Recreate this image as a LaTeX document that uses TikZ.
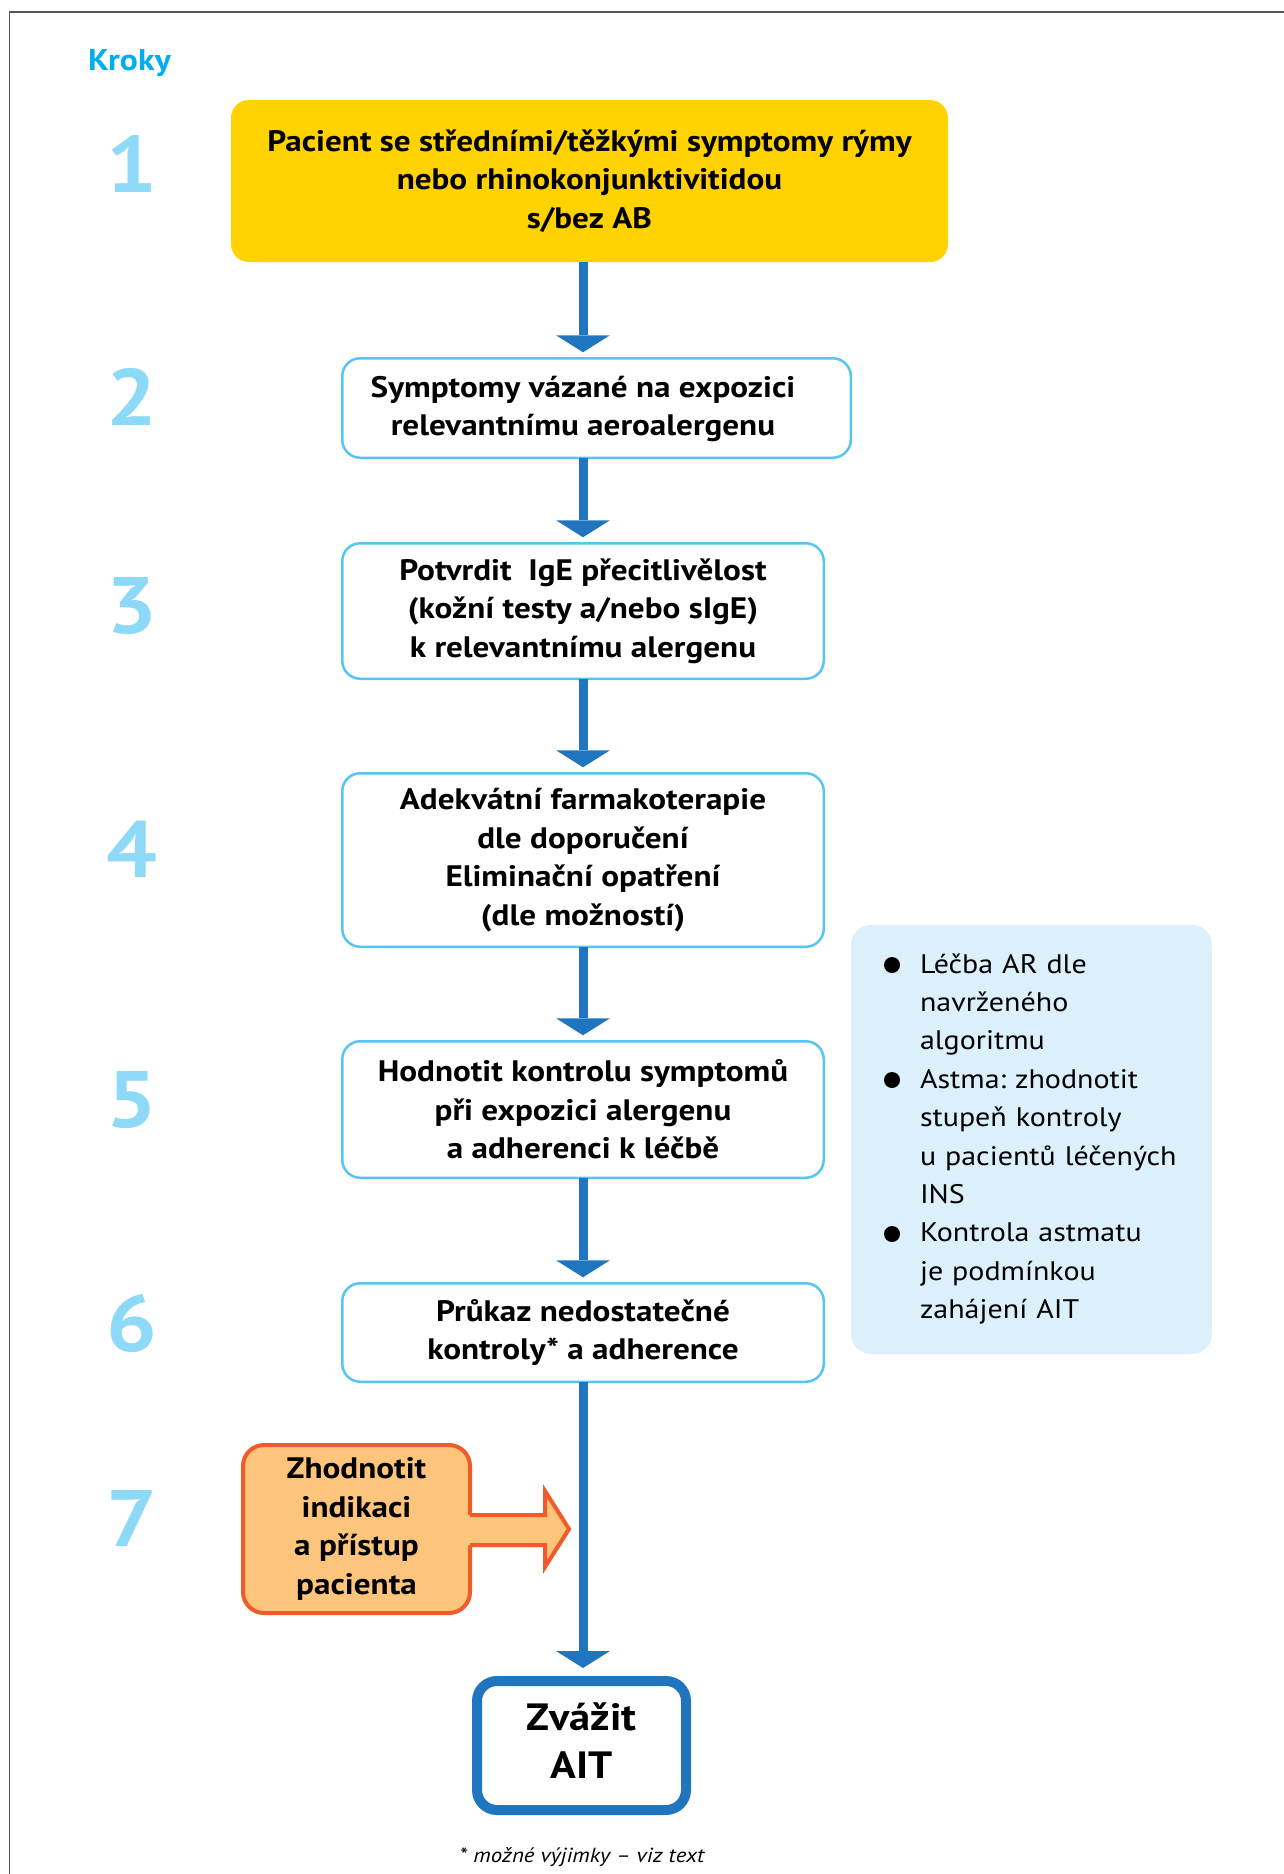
\documentclass[tikz,border=0pt]{standalone}
\usepackage{fontspec}
\setmainfont{PT Sans}[FakeStretch=1.12]
\usetikzlibrary{arrows.meta}
\frenchspacing
\definecolor{gold}{HTML}{FFD200}
\definecolor{cyanline}{HTML}{55C6F2}
\definecolor{flowblue}{HTML}{1F75BE}
\definecolor{numblue}{HTML}{8ED8F8}
\definecolor{krokycol}{HTML}{00AEEF}
\definecolor{orangeline}{HTML}{F15A29}
\definecolor{orangefill}{HTML}{FDC47C}
\definecolor{sidefill}{HTML}{DCF0FB}
\definecolor{framegray}{HTML}{555555}
\begin{document}
\begin{tikzpicture}[x=0.5pt,y=-0.5pt,
  every node/.style={inner sep=0pt,outer sep=0pt},
  stepbox/.style={draw=cyanline,line width=1.25pt,rounded corners=9pt,fill=white,minimum width=240.75pt},
  boxtext/.style={align=center,font=\fontsize{14.8}{19.3}\selectfont\bfseries},
  stepnum/.style={font=\fontsize{40}{40}\selectfont\bfseries,text=numblue},
  flow/.style={draw=flowblue,line width=4.5pt,-{Triangle[width=27pt,length=8.5pt,line width=0pt]},shorten >=3pt},
  sidetext/.style={align=left,text width=150pt,font=\fontsize{13.4}{19.2}\selectfont\frenchspacing},
]
\useasboundingbox (0,0) rectangle (1284,1874);
% frame
\draw[framegray,line width=0.8pt] (9.6,1874) -- (9.6,12) -- (1284,12);
% heading
\node[anchor=base west,font=\fontsize{15}{18}\selectfont\bfseries,text=krokycol] (kroky) at (88,70) {Kroky};
% step numbers
\node[stepnum] (n1) at (132,164) {1};
\node[stepnum] (n2) at (132,397) {2};
\node[stepnum] (n3) at (132,606) {3};
\node[stepnum] (n4) at (132,849) {4};
\node[stepnum] (n5) at (132,1100) {5};
\node[stepnum] (n6) at (132,1323) {6};
\node[stepnum] (n7) at (132,1518) {7};
% axis of the flow
\coordinate (ax) at (583,0);
% boxes
\node[fill=gold,rounded corners=9pt,minimum width=358.5pt,minimum height=81pt,boxtext] (b1) at (589.5,181)
  {Pacient se středními/těžkými symptomy rýmy\\nebo rhinokonjunktivitidou\\s/bez AB};
\node[stepbox,minimum width=254.25pt,minimum height=49.75pt] (b2) at (596.5,408) {};
\node[boxtext] (t2) at (583,409) {Symptomy vázané na expozici\\relevantnímu aeroalergenu};
\node[stepbox,minimum height=67.75pt,boxtext] (b3) at (583,611)
  {Potvrdit~ IgE přecitlivělost\\(kožní testy a/nebo sIgE)\\k relevantnímu alergenu};
\node[stepbox,minimum height=86.75pt,boxtext] (b4) at (583,860)
  {Adekvátní farmakoterapie\\dle doporučení\\Eliminační opatření\\(dle možností)};
\node[stepbox,minimum height=68.25pt,boxtext] (b5) at (583,1109.5)
  {Hodnotit kontrolu symptomů\\při expozici alergenu\\a adherenci k léčbě};
\node[stepbox,minimum height=49.25pt,boxtext] (b6) at (583,1332.5)
  {Průkaz nedostatečné\\kontroly* a adherence};
% step 7 block with arrow
\node[draw=orangeline,line width=2pt,fill=orangefill,rounded corners=10.5pt,minimum width=113.5pt,minimum height=84pt,boxtext] (b7) at (356.5,1529)
  {Zhodnotit\\indikaci\\a přístup\\pacienta};
\fill[orangefill] (466,1515) -- (545,1515) -- (545,1491) -- (569,1529) -- (545,1567) -- (545,1545) -- (466,1545) -- cycle;
\draw[orangeline,line width=2pt] (470,1515) -- (545,1515) -- (545,1491) -- (569,1529) -- (545,1567) -- (545,1545) -- (470,1545);
% final box
\node[draw=flowblue,line width=5pt,rounded corners=10pt,minimum width=104.5pt,minimum height=64.5pt] (b8) at (581.5,1745.5) {};
\node[align=center,font=\fontsize{19}{24}\selectfont\bfseries] (t8) at (581.5,1741) {Zvážit\\AIT};
% side note
\node[fill=sidefill,rounded corners=10pt,minimum width=180.5pt,minimum height=214.5pt] (side) at (1031.5,1139.5) {};
\node[sidetext,anchor=base west] (s1) at (920,973) {Léčba AR dle\\navrženého\\algoritmu};
\node[sidetext,anchor=base west] (s2) at (920,1088.2) {Astma: zhodnotit\\stupeň kontroly\\u pacientů léčených\\INS};
\node[sidetext,anchor=base west] (s3) at (920,1241.8) {Kontrola astmatu\\je podmínkou\\zahájení AIT};
\fill (892,965) circle (4pt);
\fill (892,1080) circle (4pt);
\fill (892,1234) circle (4pt);
% connectors
\draw[flow] (b1.south -| ax) -- (b2.north -| ax);
\draw[flow] (b2.south -| ax) -- (b3.north);
\draw[flow] (b3.south) -- (b4.north);
\draw[flow] (b4.south) -- (b5.north);
\draw[flow] (b5.south) -- (b6.north);
\draw[flow,shorten >=6.5pt] (b6.south) -- (b8.north -| ax);
% footnote
\node[anchor=base,font=\fontsize{10.2}{12}\selectfont\itshape] (foot) at (582,1862) {* možné výjimky – viz text};
\end{tikzpicture}
\end{document}
